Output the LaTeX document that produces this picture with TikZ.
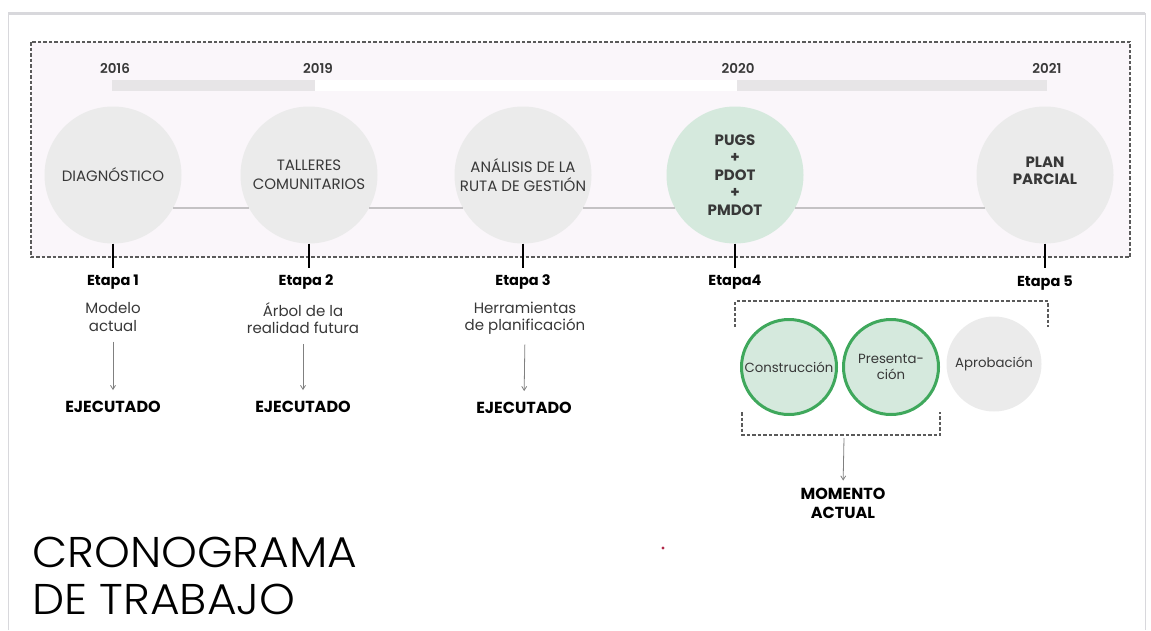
\documentclass[tikz,border=0pt]{standalone}
\usepackage{fontspec}
\setmainfont{Poppins}
\IfFontExistsTF{Poppins Light}{\newfontfamily\titlefont{Poppins Light}[FakeStretch=1.06]}{\newfontfamily\titlefont{Poppins}[FakeStretch=1.06]}
\IfFontExistsTF{Poppins SemiBold}{\newfontfamily\semifont{Poppins SemiBold}}{\newcommand\semifont{\bfseries}}
\usetikzlibrary{arrows.meta}
\definecolor{cgray}{HTML}{EBEBEB}
\definecolor{cgreen}{HTML}{D5E9DD}
\definecolor{gborder}{HTML}{3FA85C}
\definecolor{panel}{HTML}{FAF6FA}
\definecolor{bargray}{HTML}{E7E5E7}
\definecolor{dashc}{HTML}{5A5A5A}
\definecolor{linec}{HTML}{C4C2C4}
\definecolor{textc}{HTML}{383838}
\definecolor{framec}{HTML}{D8D8DC}
\definecolor{dotred}{HTML}{B02848}
\tikzset{
  stage/.style={circle, fill=cgray, minimum size=137pt, inner sep=0pt, align=center,
    text=textc, font=\fontsize{15}{19.5}\selectfont},
  stagebold/.style={stage, font=\fontsize{15}{17.5}\selectfont\bfseries},
  sub/.style={circle, fill=cgray, minimum size=95pt, inner sep=0pt, align=center,
    text=textc, font=\fontsize{13.3}{16.5}\selectfont},
  subgreen/.style={sub, fill=cgreen, draw=gborder, line width=3pt},
  year/.style={font=\fontsize{13.5}{15}\selectfont\semifont, text=textc, inner sep=0pt},
  etapa/.style={font=\fontsize{14.5}{16}\selectfont\bfseries, text=black, inner sep=0pt},
  desc/.style={font=\fontsize{15}{17.5}\selectfont, text=textc, align=center, inner sep=0pt},
  result/.style={font=\fontsize{16}{19}\selectfont\bfseries, text=black, align=center, inner sep=0pt},
  titletext/.style={anchor=base west, inner sep=0pt, text depth=0pt, font=\fontsize{43}{48}\selectfont\titlefont, text=black},
  conn/.style={draw=linec, line width=2pt},
  tickmark/.style={draw=black, line width=2pt},
  dashbox/.style={draw=dashc, line width=1.3pt, dash pattern=on 3.5pt off 2pt},
  arr/.style={draw=gray, line width=0.8pt, -{Straight Barb[length=4pt,width=5pt]}},
}
\begin{document}
\begin{tikzpicture}[x=1pt,y=-1pt]
\useasboundingbox (0,0) rectangle (1151,630);
% outer frame
\draw[framec, line width=1pt] (8,630) -- (8,13) -- (1145,13) -- (1145,630);
\draw[framec, line width=3pt] (8,13) -- (1145,13);
% panel
\path[fill=panel, dashbox] (31,42) rectangle (1130,257);
% years and bar
\fill[bargray] (112,80) rectangle (315,91);
\fill[white] (315,80) rectangle (737,91);
\fill[bargray] (737,80) rectangle (1047,91);
\node[year] (y1) at (115,68) {2016};
\node[year] (y2) at (318,68) {2019};
\node[year] (y3) at (738,68) {2020};
\node[year] (y4) at (1047,68) {2021};
% stage circles
\node[stage] (c1) at (113,175) {DIAGNÓSTICO};
\node[stage] (c2) at (309,175) {TALLERES\\COMUNITARIOS};
\node[stage] (c3) at (523,175) {ANÁLISIS DE LA\\RUTA DE GESTIÓN};
\node[stagebold, fill=cgreen] (c4) at (735,175) {PUGS\\+\\PDOT\\+\\PMDOT};
\node[stage] (c5) at (1045,175) {};
\node[font=\fontsize{15}{17.5}\selectfont\bfseries, text=textc, align=center, inner sep=0pt] (c5t) at (1045,171) {PLAN\\PARCIAL};
% connecting line
\draw[conn] (c1.-29) -- (c2.209);
\draw[conn] (c2.-29) -- (c3.209);
\draw[conn] (c3.-29) -- (c4.209);
\draw[conn] (c4.-29) -- (c5.209);
% ticks
\foreach \c in {c1,c2,c3,c4,c5} {\draw[tickmark] (\c.south) -- ++(0,24);}
% etapa labels
\node[etapa] (e1) at (113,282) {Etapa 1};
\node[etapa] (e2) at (306,282) {Etapa 2};
\node[etapa] (e3) at (523,282) {Etapa 3};
\node[etapa] (e4) at (735,282) {Etapa4};
\node[etapa] (e5) at (1045,283) {Etapa 5};
% descriptions
\node[desc] (d1) at (113,317) {Modelo\\actual};
\node[desc] (d2) at (303,318) {Árbol de la\\realidad futura};
\node[desc] (d3) at (525,318) {Herramientas\\de planificación};
\node[result] (x1) at (113,407) {EJECUTADO};
\node[result] (x2) at (303,407) {EJECUTADO};
\node[result] (x3) at (524,408) {EJECUTADO};
\draw[arr, shorten <=10pt, shorten >=11pt] (d1.south) -- (x1.north);
\draw[arr, shorten <=10pt, shorten >=11pt] (d2.south) -- (x2.north);
\draw[arr, shorten <=10pt, shorten >=11pt] (d3.south) -- (x3.north);
% sub-stage group
\draw[dashbox] (735,327) -- (735,301) -- (1048,301) -- (1048,327);
\draw[dashbox] (742,412) -- (742,435) -- (940,435) -- (940,412);
\node[subgreen] (g1) at (789,367) {Construcción};
\node[subgreen] (g2) at (891,367) {Presenta-\\ción};
\node[sub] (g3) at (994,364) {Aprobación};
\coordinate (bb) at (844,438);
\node[result] (m) at (843,503) {MOMENTO\\ACTUAL};
\draw[arr, shorten >=7pt] (bb) -- (m.north);
% title
\node[titletext] (t1) at (32,567) {CRONOGRAMA};
\node[titletext] (t2) at (32,614) {DE TRABAJO};
% red dot
\fill[dotred] (663,548) circle (1.6pt);
\end{tikzpicture}
\end{document}
